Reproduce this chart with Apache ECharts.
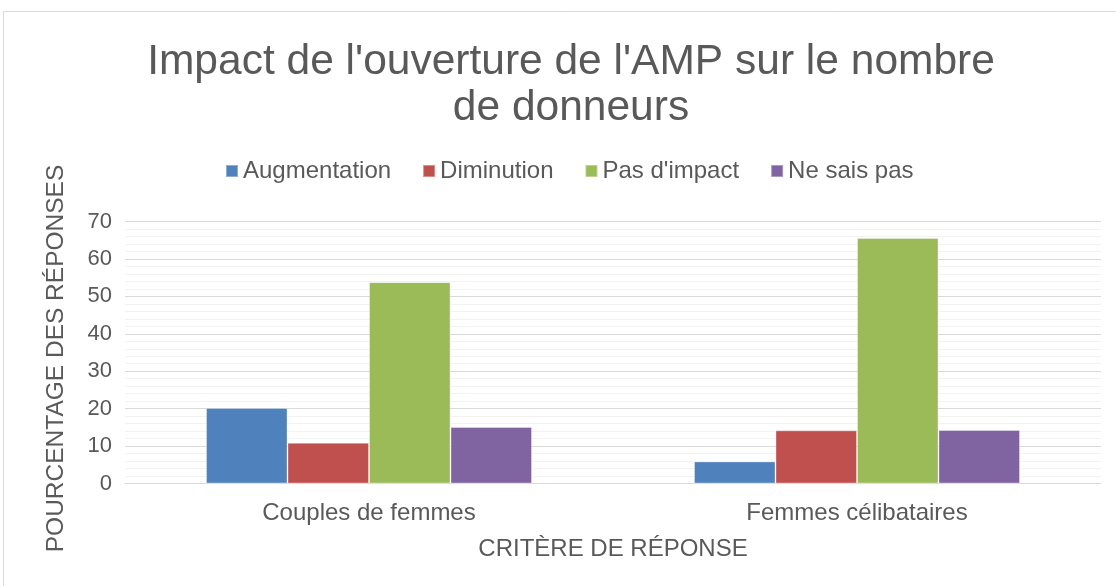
<!DOCTYPE html>
<html>
<head>
<meta charset="utf-8">
<script src="https://cdn.jsdelivr.net/npm/echarts@6/dist/echarts.min.js"></script>
<style>
html,body{margin:0;padding:0;background:#fff;}
#chart{width:1116px;height:586px;}
</style>
</head>
<body>
<div id="chart"></div>
<script>
const titleText = "Impact de l'ouverture de l'AMP sur le nombre\nde donneurs";
const categories = ["Couples de femmes", "Femmes célibataires"];
const seriesNames = ["Augmentation", "Diminution", "Pas d'impact", "Ne sais pas"];
const augmentation = [20.2, 5.9];
const diminution = [10.9, 14.2];
const pasDImpact = [53.8, 65.6];
const neSaisPas = [15.1, 14.3];
const yTicks = { min: 0, max: 70, interval: 10 };
const colors = ["#4F81BD", "#C0504D", "#9BBB59", "#8064A2"];

const seriesData = [augmentation, diminution, pasDImpact, neSaisPas];
const font = "'Liberation Sans', Arial, sans-serif";
const textColor = "#595959";

const chart = echarts.init(document.getElementById('chart'), null, {renderer: 'canvas'});
chart.setOption({
  backgroundColor: '#fff',
  animation: false,
  color: colors,
  textStyle: { fontFamily: font },
  graphic: [{
    type: 'rect',
    shape: { x: 3.5, y: 11.5, width: 1200, height: 700 },
    style: { fill: 'none', stroke: '#D9D9D9', lineWidth: 1 },
    silent: true
  }],
  title: {
    text: titleText,
    left: 566,
    top: 34,
    textAlign: 'center',
    textStyle: { fontFamily: font, fontSize: 42.5, fontWeight: 'normal', color: textColor, lineHeight: 46 }
  },
  legend: {
    data: seriesNames,
    left: 220,
    top: 154,
    itemWidth: 12,
    itemHeight: 12,
    itemGap: 31,
    icon: 'rect',
    textStyle: { fontFamily: font, fontSize: 24, color: textColor }
  },
  grid: { left: 125, right: 15, top: 221.5, bottom: 102.5, containLabel: false },
  xAxis: {
    type: 'category',
    data: categories,
    name: 'CRITÈRE DE RÉPONSE',
    nameLocation: 'middle',
    nameGap: 54,
    nameTextStyle: { fontFamily: font, fontSize: 24, color: textColor },
    axisLine: { show: true, lineStyle: { color: '#D9D9D9', width: 1 } },
    axisTick: { show: false },
    axisLabel: { fontFamily: font, fontSize: 24, color: textColor, margin: 18 },
    splitLine: { show: false }
  },
  yAxis: {
    type: 'value',
    min: yTicks.min,
    max: yTicks.max,
    interval: yTicks.interval,
    name: 'POURCENTAGE DES RÉPONSES',
    nameLocation: 'middle',
    nameGap: 56,
    nameRotate: 90,
    nameTextStyle: { fontFamily: font, fontSize: 24.5, color: textColor, padding: [0, 12, 0, 0] },
    axisLine: { show: false },
    axisTick: { show: false },
    axisLabel: { fontFamily: font, fontSize: 22, color: textColor, margin: 13 },
    splitLine: { show: true, lineStyle: { color: '#D9D9D9', width: 1 } },
    minorTick: { show: false, splitNumber: 5 },
    minorSplitLine: { show: true, lineStyle: { color: '#F2F2F2', width: 1 } }
  },
  series: seriesNames.map((name, i) => ({
    name: name,
    type: 'bar',
    data: seriesData[i],
    barWidth: 81.5,
    barGap: '0%',
    itemStyle: { color: colors[i], borderColor: 'rgba(255,255,255,0.35)', borderWidth: 1 }
  }))
});
</script>
</body>
</html>
